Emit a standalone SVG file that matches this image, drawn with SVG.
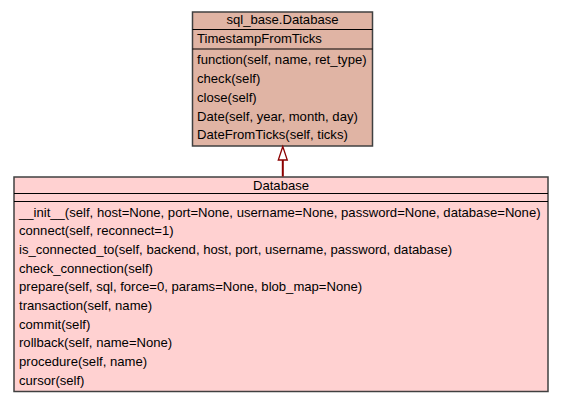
<svg xmlns="http://www.w3.org/2000/svg" width="563" height="403" viewBox="0 0 563 403">
<style>
text{font-family:"Liberation Sans",Arial,sans-serif;font-size:13.1px;fill:#000}
.c{text-anchor:middle}
.box{stroke:#404040;stroke-width:1.5}
.sep{stroke:#000;stroke-width:1.2}
</style>
<rect width="563" height="403" fill="#fff"/>
<g id="node-sql_base-Database">
<rect class="box" x="192.5" y="12" width="180" height="134" fill="#e0b4a4"/>
<line class="sep" x1="192.5" y1="29.5" x2="372.5" y2="29.5"/>
<line class="sep" x1="192.5" y1="49" x2="372.5" y2="49"/>
<text class="c" x="282.5" y="24">sql_base.Database</text>
<text x="197" y="43">TimestampFromTicks</text>
<text x="197" y="64">function(self, name, ret_type)</text>
<text x="197" y="83">check(self)</text>
<text x="197" y="102">close(self)</text>
<text x="197" y="121">Date(self, year, month, day)</text>
<text x="197" y="139">DateFromTicks(self, ticks)</text>
</g>
<g id="node-Database">
<rect class="box" x="14" y="177" width="534" height="214.5" fill="#ffd1d1"/>
<line class="sep" x1="14" y1="193.5" x2="548" y2="193.5"/>
<line class="sep" x1="14" y1="201.5" x2="548" y2="201.5"/>
<text class="c" x="281" y="190">Database</text>
<text x="19" y="216.5">__init__(self, host=None, port=None, username=None, password=None, database=None)</text>
<text x="19" y="235.2">connect(self, reconnect=1)</text>
<text x="19" y="253.8">is_connected_to(self, backend, host, port, username, password, database)</text>
<text x="19" y="272.5">check_connection(self)</text>
<text x="19" y="291.2">prepare(self, sql, force=0, params=None, blob_map=None)</text>
<text x="19" y="309.8">transaction(self, name)</text>
<text x="19" y="328.5">commit(self)</text>
<text x="19" y="347.2">rollback(self, name=None)</text>
<text x="19" y="365.8">procedure(self, name)</text>
<text x="19" y="384.5">cursor(self)</text>
</g>
<g id="connectors">
<line x1="282.8" y1="176.5" x2="282.8" y2="160" stroke="#8b0000" stroke-width="2"/>
<polygon points="282.8,146.5 278.3,160 287.3,160" fill="#fff" stroke="#8b0000" stroke-width="1.3"/>
</g>
</svg>
